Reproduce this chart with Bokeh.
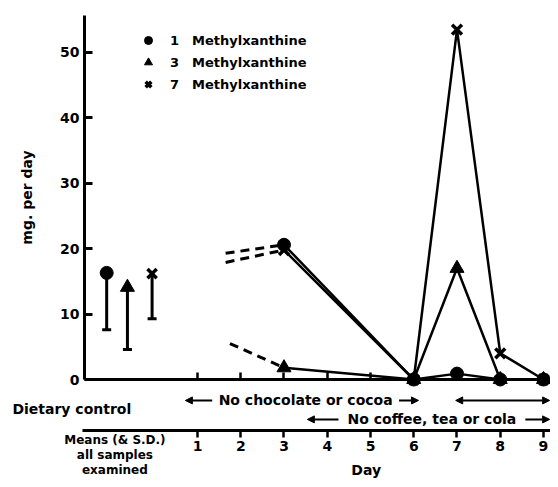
from bokeh.plotting import figure
from bokeh.models import (LinearAxis, FixedTicker, Range1d, Legend, LegendItem,
                          Arrow, NormalHead, Label)
from bokeh.embed import file_html
from bokeh.resources import INLINE

FONT = "DejaVu Sans"

# ---- data ----
days = [3, 6, 7, 8, 9]
m1_vals = [20.6, 0.0, 0.9, 0.0, 0.0]    # 1 Methylxanthine
m3_vals = [1.8, 0.0, 17.0, 0.0, 0.0]    # 3 Methylxanthine
m7_vals = [19.8, 0.0, 53.5, 4.0, 0.0]   # 7 Methylxanthine

# dashed lead-ins towards day 3
lead_days = [1.65, 1.65, 1.75]
lead_vals = [19.3, 17.9, 5.5]

# means (& S.D.) of all samples examined
mean_x = [-1.1, -0.62, -0.05]
mean_vals = [16.3, 14.1, 16.2]
mean_low = [7.6, 4.6, 9.3]

series_names = ["1\u2003Methylxanthine", "3\u2003Methylxanthine", "7\u2003Methylxanthine"]
series_markers = ["circle", "triangle", "x"]

day_ticks = [1, 2, 3, 4, 5, 6, 7, 8, 9]
y_ticks = [0, 10, 20, 30, 40, 50]

X_MIN, X_MAX = -3.555, 9.162
Y_MIN, Y_MAX = -15.29, 57.95
Y_AXIS_X = -1.613
lower_axis_y = -7.8

# dietary control periods: (start day, end day, label, text centre, half width, row)
periods = [
    (0.72, 6.11, "No chocolate or cocoa", 3.50, 2.16, -3.2),
    (3.54, X_MAX - 0.02, "No coffee, tea or cola", 6.42, 2.16, -6.1),
    (6.97, X_MAX - 0.02, "", None, None, -3.2),
]

p = figure(width=550, height=479,
           x_range=Range1d(X_MIN, X_MAX), y_range=Range1d(Y_MIN, Y_MAX),
           output_backend="svg", toolbar_location=None,
           x_axis_type=None, y_axis_type=None,
           min_border_left=0, min_border_right=0, min_border_top=0, min_border_bottom=0)
p.grid.visible = False
p.outline_line_color = None
p.background_fill_color = "white"

# y axis
ya = LinearAxis(fixed_location=Y_AXIS_X, bounds=(0, 55.7), ticker=FixedTicker(ticks=y_ticks),
                axis_label="mg. per day")
ya.axis_line_width = 3
ya.major_tick_line_width = 3
ya.major_tick_in = 8
ya.major_tick_out = 0
ya.minor_tick_line_color = None
ya.major_label_text_font = FONT
ya.major_label_text_font_style = "bold"
ya.major_label_text_font_size = "14px"
ya.major_label_text_color = "black"
ya.major_label_standoff = 5
ya.axis_label_text_font = FONT
ya.axis_label_text_font_style = "bold"
ya.axis_label_text_font_size = "14px"
ya.axis_label_text_color = "black"
ya.axis_label_standoff = 22
p.add_layout(ya, "left")

# x axis at y = 0 (ticks only)
xa0 = LinearAxis(fixed_location=0, bounds=(Y_AXIS_X, X_MAX), ticker=FixedTicker(ticks=day_ticks))
xa0.axis_line_width = 3
xa0.major_tick_line_width = 2.5
xa0.major_tick_in = 7
xa0.major_tick_out = 0
xa0.minor_tick_line_color = None
xa0.major_label_text_color = None
p.add_layout(xa0, "below")

# lower day axis
xa1 = LinearAxis(fixed_location=lower_axis_y, bounds=(Y_AXIS_X - 0.05, X_MAX),
                 ticker=FixedTicker(ticks=day_ticks))
xa1.axis_line_width = 3
xa1.major_tick_line_width = 2.5
xa1.major_tick_in = 0
xa1.major_tick_out = 7
xa1.minor_tick_line_color = None
xa1.major_label_text_font = FONT
xa1.major_label_text_font_style = "bold"
xa1.major_label_text_font_size = "14px"
xa1.major_label_text_color = "black"
xa1.major_label_standoff = 3
p.add_layout(xa1, "below")

# series lines
for vals in (m1_vals, m3_vals, m7_vals):
    p.line(days, vals, line_color="black", line_width=2.5)

# dashed lead-ins
targets = [m1_vals[0], m7_vals[0], m3_vals[0]]
for d0, v0, v1 in zip(lead_days, lead_vals, targets):
    p.line([d0, days[0]], [v0, v1], line_color="black", line_width=3, line_dash="9 6")

# series markers
marker_kw = dict(fill_color="black", line_color="black")
p.scatter(days, m1_vals, marker="circle", size=13, **marker_kw)
p.scatter(days, m3_vals, marker="triangle", size=14, **marker_kw)
p.scatter(days, m7_vals, marker="x", size=14, line_width=3.5, line_color="black")

# means & S.D.
p.segment(mean_x, mean_low, mean_x, mean_vals, line_color="black", line_width=3)
p.scatter(mean_x, mean_low, marker="dash", size=9, line_width=3, line_color="black")
legend_renderers = []
for xm, vm, mk in zip(mean_x, mean_vals, series_markers):
    if mk == "x":
        r = p.scatter([xm], [vm], marker=mk, size=13, line_width=3.5, line_color="black")
    else:
        r = p.scatter([xm], [vm], marker=mk, size=14 if mk == "triangle" else 13, **marker_kw)
    legend_renderers.append(r)

legend = Legend(items=[LegendItem(label=n, renderers=[r]) for n, r in zip(series_names, legend_renderers)],
                location=(138, 385), padding=0, margin=0, spacing=2,
                glyph_width=20, glyph_height=20, label_height=20, label_standoff=12,
                border_line_color=None, background_fill_alpha=0,
                label_text_font=FONT, label_text_font_style="bold",
                label_text_font_size="13px", label_text_color="black")
p.add_layout(legend, "center")

# dietary control annotations
head = dict(size=7, fill_color="black", line_color="black", line_width=1)
for start, end, text, centre, half, row in periods:
    if text:
        p.add_layout(Label(x=centre, y=row, text=text, text_align="center", text_baseline="middle",
                           text_font=FONT, text_font_style="bold", text_font_size="14px",
                           text_color="black"))
        p.add_layout(Arrow(end=NormalHead(**head), x_start=centre - half, y_start=row,
                           x_end=start, y_end=row, line_width=2, line_color="black"))
        p.add_layout(Arrow(end=NormalHead(**head), x_start=centre + half, y_start=row,
                           x_end=end, y_end=row, line_width=2, line_color="black"))
    else:
        p.add_layout(Arrow(start=NormalHead(**head), end=NormalHead(**head), x_start=start, y_start=row,
                           x_end=end, y_end=row, line_width=2, line_color="black"))

p.add_layout(Label(x=-3.28, y=-4.45, text="Dietary control", text_align="left", text_baseline="middle",
                   text_font=FONT, text_font_style="bold", text_font_size="14px", text_color="black"))

means_lines = ["Means (& S.D.)", "all samples", "examined"]
for i, line in enumerate(means_lines):
    p.add_layout(Label(x=-0.91, y=-9.3 - i * 2.3, text=line, text_align="center", text_baseline="middle",
                       text_font=FONT, text_font_style="bold", text_font_size="12px", text_color="black"))

p.add_layout(Label(x=4.9, y=-13.9, text="Day", text_align="center", text_baseline="middle",
                   text_font=FONT, text_font_style="bold", text_font_size="14px", text_color="black"))

open("out.html", "w").write(file_html(p, INLINE))
